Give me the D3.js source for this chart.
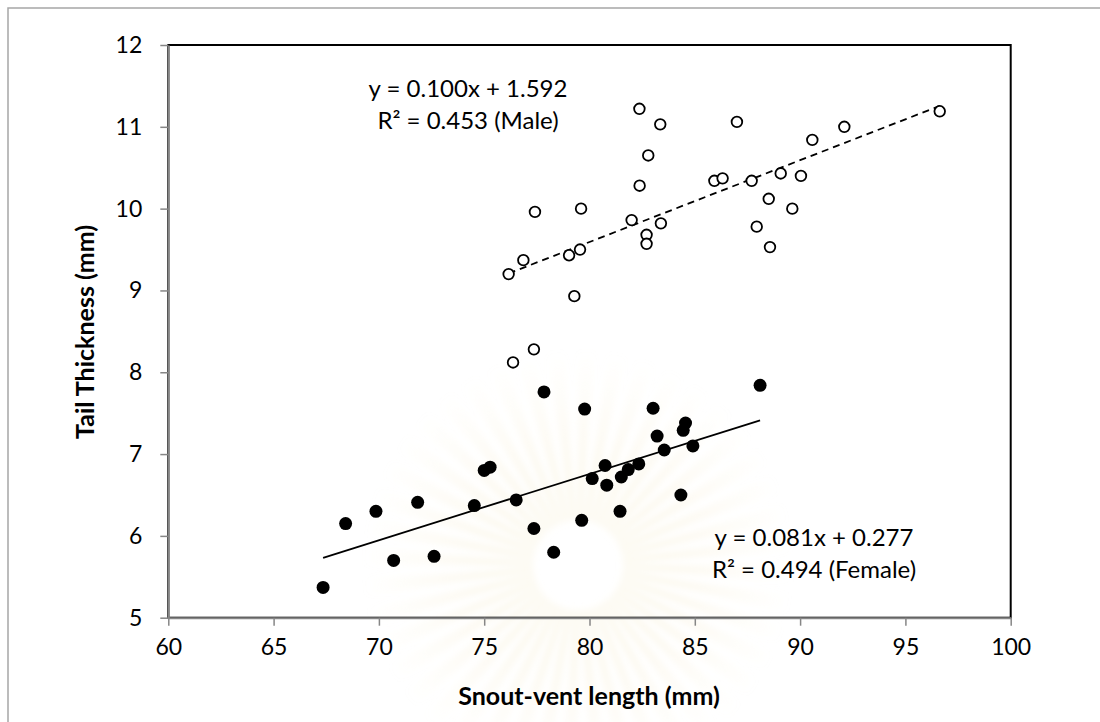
<!DOCTYPE html>
<html>
<head>
<meta charset="utf-8">
<script src="https://cdn.jsdelivr.net/npm/d3@7/dist/d3.min.js"></script>
<style>
  body { margin: 0; background: #fff; }
  svg { display: block; font-family: Lato, "Open Sans", sans-serif; }
</style>
</head>
<body>
<svg id="chart" width="1100" height="722"></svg>
<script>
// male (open circles)
const maleX = [76.16, 76.86, 77.41, 79.03, 79.55, 79.6, 79.28, 76.37, 77.36,
  82.37, 83.36, 82.79, 82.38, 82.0, 83.39, 82.71, 82.71, 87.0, 85.93, 86.32,
  87.7, 89.08, 90.04, 88.51, 89.63, 87.94, 88.57, 90.58, 92.1, 96.63];
const maleY = [9.2, 9.37, 9.96, 9.43, 9.5, 10.0, 8.93, 8.12, 8.28,
  11.22, 11.03, 10.65, 10.28, 9.86, 9.82, 9.68, 9.57, 11.06, 10.34, 10.37,
  10.34, 10.43, 10.4, 10.12, 10.0, 9.78, 9.53, 10.84, 11.0, 11.19];
// female (filled circles)
const femaleX = [67.35, 68.42, 69.86, 70.7, 71.84, 72.62, 74.53, 75.0, 75.28,
  76.52, 77.84, 77.36, 78.3, 79.77, 79.63, 80.13, 80.74, 80.82, 81.51, 81.84,
  82.34, 81.45, 83.02, 83.21, 83.55, 84.45, 84.56, 84.91, 84.34, 88.1];
const femaleY = [5.37, 6.15, 6.3, 5.7, 6.41, 5.75, 6.37, 6.8, 6.84,
  6.44, 7.76, 6.09, 5.8, 7.55, 6.19, 6.7, 6.86, 6.62, 6.72, 6.81,
  6.88, 6.3, 7.56, 7.22, 7.05, 7.29, 7.38, 7.1, 6.5, 7.84];
// trend lines [slope, intercept]
const maleFit = [0.100, 1.592];
const femaleFit = [0.081, 0.277];
const maleLabel = ["y = 0.100x + 1.592", "R\u00B2 = 0.453 (Male)"];
const femaleLabel = ["y = 0.081x + 0.277", "R\u00B2 = 0.494 (Female)"];
const xTicks = [60, 65, 70, 75, 80, 85, 90, 95, 100];
const yTicks = [5, 6, 7, 8, 9, 10, 11, 12];

const svg = d3.select('#chart');
const plotL = 168.3, plotR = 1010.7, plotT = 45, plotB = 617.7;
const x = d3.scaleLinear().domain([60, 100]).range([plotL, plotR]);
const y = d3.scaleLinear().domain([5, 12]).range([plotB, plotT]);

// outer chart frame
svg.append('rect').attr('x', 8).attr('y', 8).attr('width', 1200).attr('height', 800)
  .attr('fill', 'none').attr('stroke', '#a6a6a6').attr('stroke-width', 1.5);

// faint watermark behind the plot
const defs = svg.append('defs');
const grad = defs.append('radialGradient').attr('id', 'wmfade')
  .attr('gradientUnits', 'userSpaceOnUse').attr('cx', 0).attr('cy', 0).attr('r', 215);
grad.append('stop').attr('offset', '0.2').attr('stop-color', '#f7efd2').attr('stop-opacity', 0.9);
grad.append('stop').attr('offset', '1').attr('stop-color', '#f7efd2').attr('stop-opacity', 0);
defs.append('filter').attr('id', 'soft').append('feGaussianBlur').attr('stdDeviation', 3);
const wm = svg.append('g').attr('transform', 'translate(578,565)').attr('filter', 'url(#soft)');
const rays = d3.range(0, 44);
const rayArc = d3.arc().innerRadius(45).outerRadius(215);
wm.selectAll('path').data(rays).enter().append('path')
  .attr('d', i => rayArc({startAngle: i * Math.PI * 2 / 44, endAngle: i * Math.PI * 2 / 44 + 0.08}))
  .attr('fill', 'url(#wmfade)').attr('opacity', 0.55);

// plot area border
svg.append('rect').attr('x', plotL).attr('y', plotT).attr('width', plotR - plotL).attr('height', plotB - plotT)
  .attr('fill', 'none').attr('stroke', '#000').attr('stroke-width', 2);

// axes
const axisColor = '#868686';
const gx = svg.append('g').attr('transform', `translate(0,${plotB})`)
  .call(d3.axisBottom(x).tickValues(xTicks).tickFormat(d3.format('d'))
    .tickSize(8).tickPadding(13).tickSizeOuter(0));
const gy = svg.append('g').attr('transform', `translate(${plotL},0)`)
  .call(d3.axisLeft(y).tickValues(yTicks).tickFormat(d3.format('d'))
    .tickSize(8).tickPadding(18).tickSizeOuter(0));
[gx, gy].forEach(g => {
  g.select('.domain').attr('stroke', axisColor).attr('stroke-width', 2);
  g.selectAll('.tick line').attr('stroke', axisColor).attr('stroke-width', 1.5);
  g.selectAll('.tick text').attr('fill', '#000').style('font-size', '23px')
    .style('font-family', 'Lato, sans-serif');
});
gx.selectAll('.tick text').attr('dy', '0.71em');

// axis titles
svg.append('text').attr('x', 589).attr('y', 705).attr('text-anchor', 'middle')
  .style('font-size', '25px').style('font-weight', 'bold').text('Snout-vent length (mm)');
svg.append('text').attr('transform', 'translate(94,332) rotate(-90)').attr('text-anchor', 'middle')
  .style('font-size', '25px').style('font-weight', 'bold').text('Tail Thickness (mm)');

// trend lines
const line = d3.line().x(d => x(d[0])).y(d => y(d[1]));
const fitPts = (xs, f) => d3.extent(xs).map(v => [v, f[0] * v + f[1]]);
svg.append('path').attr('d', line(fitPts(maleX, maleFit)))
  .attr('fill', 'none').attr('stroke', '#000').attr('stroke-width', 1.8).attr('stroke-dasharray', '7,5');
svg.append('path').attr('d', line(fitPts(femaleX, femaleFit)))
  .attr('fill', 'none').attr('stroke', '#000').attr('stroke-width', 1.8);

// points
svg.append('g').selectAll('circle').data(d3.zip(femaleX, femaleY)).enter().append('circle')
  .attr('cx', d => x(d[0])).attr('cy', d => y(d[1])).attr('r', 6.5).attr('fill', '#000');
svg.append('g').selectAll('circle').data(d3.zip(maleX, maleY)).enter().append('circle')
  .attr('cx', d => x(d[0])).attr('cy', d => y(d[1])).attr('r', 5.3)
  .attr('fill', '#fff').attr('stroke', '#000').attr('stroke-width', 1.8);

// equation labels
const label = (lines, cx, cy) => {
  svg.append('g').selectAll('text').data(lines).enter().append('text')
    .attr('x', cx).attr('y', (d, i) => cy + i * 32).attr('text-anchor', 'middle')
    .style('font-size', '24px').text(d => d);
};
label(maleLabel, 468, 97);
label(femaleLabel, 814, 546);
</script>
</body>
</html>
